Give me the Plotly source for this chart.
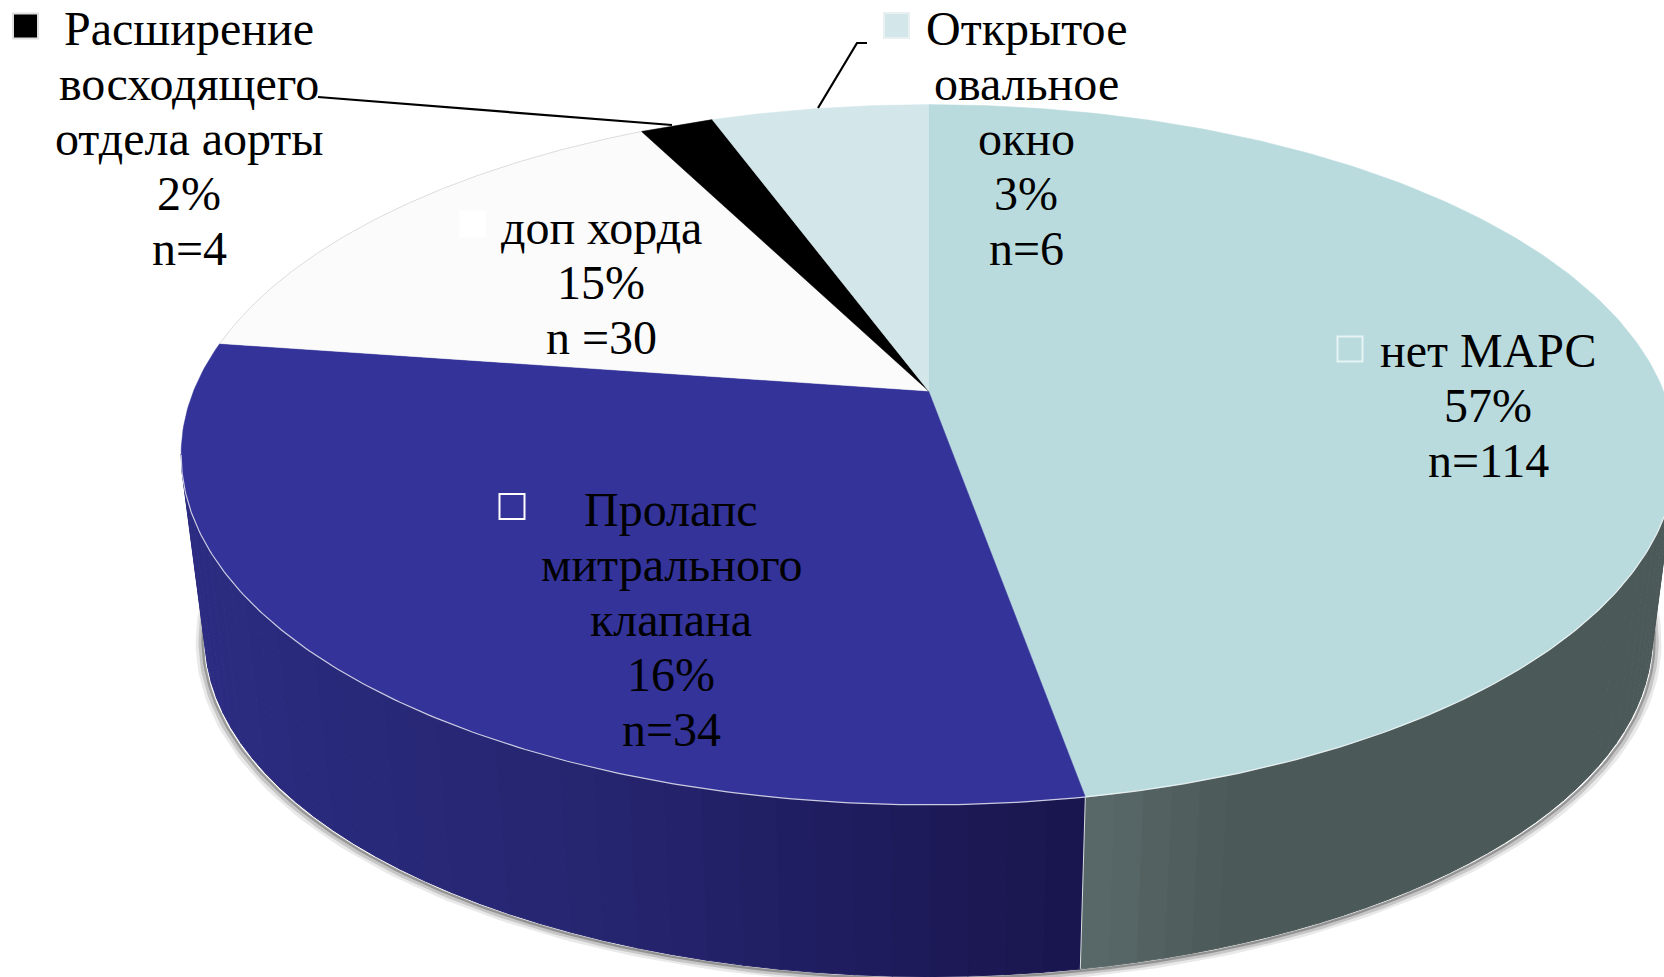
import numpy as np
import plotly.graph_objects as go

# --- data: shares of the circle as drawn (clockwise from 12 o'clock), and printed labels
categories = ["нет МАРС", "Пролапс митрального клапана", "доп хорда",
              "Расширение восходящего отдела аорты", "Открытое овальное окно"]
drawn_share = [47.2, 30.1, 15.2, 1.9, 5.6]
printed_pct = ["57%", "16%", "15%", "2%", "3%"]
printed_n = ["n=114", "n=34", "n =30", "n=4", "n=6"]
top_colors = ["#b9dbde", "#333399", "#fbfbfb", "#000000", "#d3e6ea"]
label_lines = [["нет МАРС"], ["Пролапс", "митрального", "клапана"], ["доп хорда"],
               ["Расширение", "восходящего", "отдела аорты"], ["Открытое", "овальное", "окно"]]

# --- layout / styling (pixel space of the photo)
W, H = 1664, 977
CX, CY, AX, BY, K = 928.6, 391.0, 735.0, 338.5, 0.182
DEPTH, SCALE = 185.0, 0.968
FONT = "Liberation Serif"
FS = 48
LINE_H = 55
label_pos = [(1488, 350), (671, 509), (601, 227), (189, 28), (1026, 28)]
key_pos = [(1350, 349), (512, 506.5), (472.5, 224), (25.5, 26), (896.5, 25.5)]
key_fill = ["rgba(0,0,0,0)", "rgba(0,0,0,0)", "#ffffff", "#000000", "#d3e6ea"]
key_line = ["#e8f4f4", "#ffffff", "#ffffff", "#e0e0e0", "#e8f0f2"]
key_size = 25
side_stops = {0: ([1086, 1230, 1664], ["#5a6a6a", "#4c5959", "#4c5959"]),
              1: ([200, 620, 1086], ["#2c2c82", "#25256f", "#19154d"])}


def proj(theta, lower=False):
    t = np.radians(theta)
    u, v = np.sin(t), np.cos(t)
    w = 1 + K * v
    s, d = (SCALE, DEPTH) if lower else (1.0, 0.0)
    return CX + s * AX * u / w, CY + d - s * BY * v / w


def hexrgb(c):
    return np.array([int(c[i:i + 2], 16) for i in (1, 3, 5)], float)


def shade(x, xs, cols):
    rgb = [np.interp(x, xs, [hexrgb(c)[i] for c in cols]) for i in range(3)]
    return "rgb(%d,%d,%d)" % tuple(rgb)


fig = go.Figure()


def poly(x, y, color, line=None, lw=1):
    fig.add_trace(go.Scatter(x=x, y=y, mode="lines", fill="toself", fillcolor=color,
                             line=dict(color=line or color, width=lw), hoverinfo="skip",
                             showlegend=False))


def stroke(x, y, color, lw=1):
    fig.add_trace(go.Scatter(x=x, y=y, mode="lines", line=dict(color=color, width=lw),
                             hoverinfo="skip", showlegend=False))


edges = np.concatenate([[0], np.cumsum(drawn_share)]) / sum(drawn_share) * 360
th_l = np.degrees(np.arccos(-K))  # silhouette angle on the right
th_r = 360 - th_l                 # silhouette angle on the left

# soft shadow below the lower rim
ths = np.linspace(th_l - 8, th_r + 8, 240)
sx, sy = proj(ths, lower=True)
for off, lw, col in [(5, 7, "rgba(120,120,120,0.16)"), (3.5, 5, "rgba(120,120,120,0.3)"), (2, 2.5, "rgba(110,110,110,0.6)")]:
    stroke(sx + 1.2 * off * np.sin(np.radians(ths)), sy + off, col, lw)

# side wall of the two near slices
for idx, (a, b) in {0: (th_l, edges[1]), 1: (edges[1], th_r)}.items():
    xs, cols = side_stops[idx]
    cuts = np.linspace(a, b, 37)
    for t0, t1 in zip(cuts[:-1], cuts[1:]):
        tt = np.linspace(t0, t1 + 0.05, 5)
        ux, uy = proj(tt)
        lx, ly = proj(tt, lower=True)
        col = shade((ux.mean() + lx.mean()) / 2, xs, cols)
        poly(np.r_[ux, lx[::-1]], np.r_[uy, ly[::-1]], col)

# top face
for i, c in enumerate(top_colors):
    tt = np.linspace(edges[i], edges[i + 1], 200)
    ax, ay = proj(tt)
    poly(np.r_[CX, ax, CX], np.r_[CY, ay, CY], c, lw=0.5)

# rim highlights
tt = np.linspace(th_l, th_r, 300)
ax, ay = proj(tt)
stroke(ax, ay, "rgba(255,255,255,0.75)", 1.2)
jx = np.r_[proj(edges[1])[0], proj(edges[1], True)[0]]
jy = np.r_[proj(edges[1])[1], proj(edges[1], True)[1]]
stroke(jx, jy, "#d8dede", 1)
tt = np.linspace(edges[2], edges[3], 120)
ax, ay = proj(tt)
stroke(ax, ay, "#d4d4d4", 0.8)

# leader lines
stroke([318, 672], [97, 125], "#000000", 2.2)
stroke([818, 857, 867], [108, 43, 43], "#000000", 2.2)

# legend keys
for (kx, ky), f, l in zip(key_pos, key_fill, key_line):
    fig.add_trace(go.Scatter(x=[kx], y=[ky], mode="markers", hoverinfo="skip", showlegend=False,
                             marker=dict(symbol="square", size=key_size, color=f, line=dict(color=l, width=2))))

# labels, one line at a time so the line pitch follows the reference
for lines, pct, n, (lx, ly) in zip(label_lines, printed_pct, printed_n, label_pos):
    for j, txt in enumerate(lines + [pct, n]):
        fig.add_annotation(x=lx, y=ly + j * LINE_H, text=txt, showarrow=False, xanchor="center",
                           yanchor="middle", font=dict(family=FONT, size=FS, color="#000000"))

fig.update_layout(width=W, height=H, margin=dict(l=0, r=0, t=0, b=0), paper_bgcolor="#ffffff",
                  plot_bgcolor="#ffffff", showlegend=False,
                  xaxis=dict(range=[0, W], visible=False, fixedrange=True),
                  yaxis=dict(range=[H, 0], visible=False, fixedrange=True))
fig.write_html("out.html", config={"displayModeBar": False},
               post_script="document.body.style.margin='0';document.documentElement.style.overflow='hidden';")
